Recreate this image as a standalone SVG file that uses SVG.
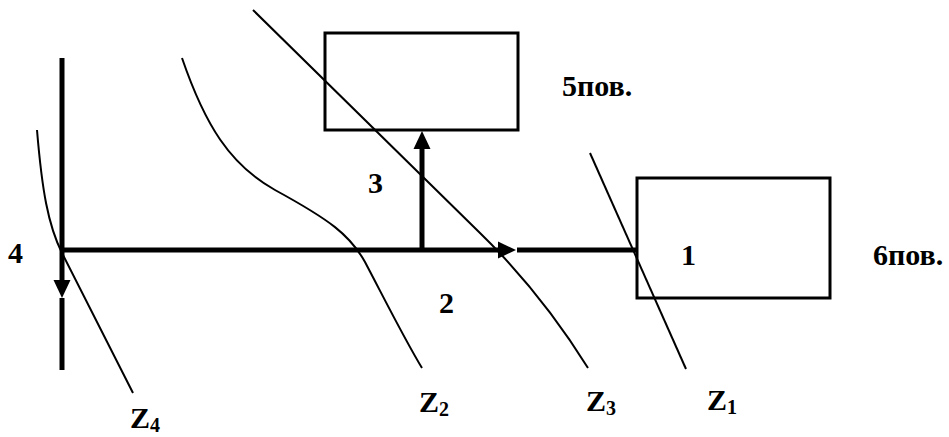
<svg xmlns="http://www.w3.org/2000/svg" width="949" height="437" viewBox="0 0 949 437">
<style>
  .box{fill:none;stroke:#000;stroke-width:3}
  .thick{fill:none;stroke:#000;stroke-width:5}
  .zline{fill:none;stroke:#000;stroke-width:2}
  text{font-family:"Liberation Serif","Times New Roman",serif;font-weight:bold;font-size:30px;fill:#000}
  .sub{font-size:20px}
</style>
<defs>
  <marker id="ah" markerUnits="userSpaceOnUse" markerWidth="19" markerHeight="18" refX="0" refY="8.5" orient="auto" overflow="visible">
    <path d="M0,0 L18,8.5 L0,17 z" fill="#000"/>
  </marker>
</defs>
<rect width="949" height="437" fill="#fff"/>

<g id="zones">
  <path id="z4" class="zline" d="M37,130 C42,190 48,225 62,253 L133,393"/>
  <path id="z2" class="zline" d="M182,58 C205,125 230,165 275,190 C330,220 350,235 365,262 C385,300 405,340 422,368"/>
  <path id="z3" class="zline" d="M253,10 L480,233 C520,272 555,315 588,368"/>
  <path id="z1" class="zline" d="M590,153 L686,369"/>
</g>

<g id="node5">
  <rect class="box" x="325" y="33" width="193" height="97"/>
  <text x="562" y="96">5пов.</text>
</g>

<g id="node6">
  <rect class="box" x="637" y="178" width="193" height="120"/>
  <text x="681" y="265">1</text>
  <text x="873" y="265">6пов.</text>
</g>

<g id="connectors">
  <line class="thick" x1="62" y1="58" x2="62" y2="250"/>
  <line class="thick" x1="62" y1="250" x2="62" y2="280" marker-end="url(#ah)"/>
  <line class="thick" x1="62" y1="298" x2="62" y2="370"/>
  <line class="thick" x1="60" y1="250" x2="498" y2="250" marker-end="url(#ah)"/>
  <line class="thick" x1="517" y1="250" x2="637" y2="250"/>
  <line class="thick" x1="422" y1="250" x2="422" y2="149" marker-end="url(#ah)"/>
</g>

<g id="labels">
  <text x="8" y="263">4</text>
  <text x="368" y="193">3</text>
  <text x="439" y="313">2</text>
  <text x="130" y="428">Z<tspan class="sub" dy="4">4</tspan></text>
  <text x="419" y="412">Z<tspan class="sub" dy="4">2</tspan></text>
  <text x="586" y="411">Z<tspan class="sub" dy="4">3</tspan></text>
  <text x="707" y="410">Z<tspan class="sub" dy="4">1</tspan></text>
</g>
</svg>
